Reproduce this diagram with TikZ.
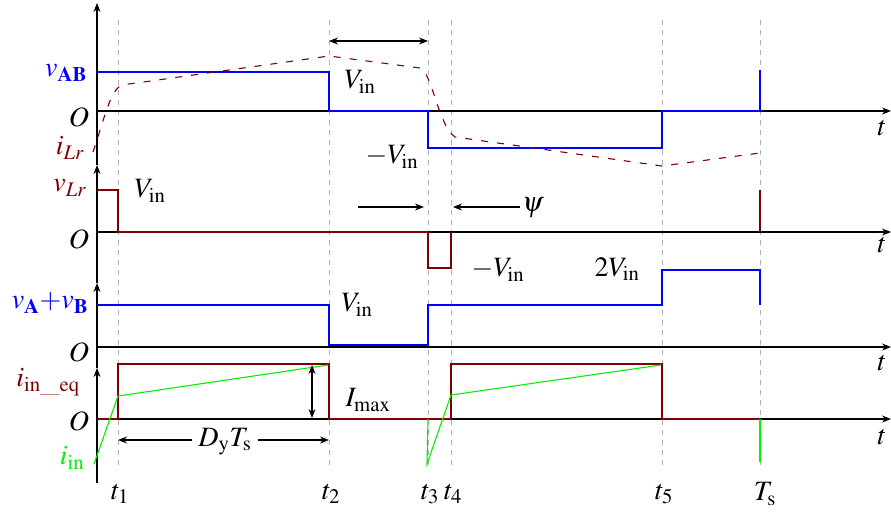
\documentclass[tikz,border=0pt]{standalone}
\usepackage{mathptmx}
\usetikzlibrary{arrows.meta}
\definecolor{dred}{RGB}{128,0,0}
\definecolor{gr}{RGB}{0,240,0}
\begin{document}
\begin{tikzpicture}[x=1pt,y=-1pt,
 ax/.style={line width=1.2pt,-{Stealth[length=9pt,width=7pt]}},
 dim/.style={line width=1.1pt,{Stealth[length=9pt,width=7pt]}-{Stealth[length=9pt,width=7pt]}},
 one/.style={line width=1.1pt,-{Stealth[length=9pt,width=7pt]}},
 grid/.style={gray!60,dashed,line width=1pt,dash pattern=on 5pt off 5pt},
 bl/.style={blue,line width=1.3pt},
 rd/.style={dred,line width=1.3pt},
 gn/.style={gr,line width=1.1pt},
 lb/.style={font=\fontsize{28}{30}\selectfont,inner sep=0pt}]
\useasboundingbox (0,0) rectangle (891,512);
\foreach \x in {118,329,428,451,662,760} \draw[grid] (\x,20) -- (\x,470);
\draw[ax] (97,483) -- (97,368);
\draw[ax] (97,368) -- (97,283);
\draw[ax] (97,283) -- (97,165);
\draw[ax] (97,165) -- (97,3);
\foreach \y in {111,232,347,419} \draw[ax] (97,\y) -- (891,\y);
\foreach \y/\n in {128/a,245/b,363/c,437/d} \node[lb] (t\n) at (882,\y) {$t$};
\foreach \y/\n in {117/a,239/b,352/c,421/d} \node[lb] (O\n) at (79,\y) {$O$};
\draw[bl] (97,72) -- (329,72) -- (329,111) -- (428,111) -- (428,148) -- (662,148) -- (662,111) -- (760,111);
\draw[bl] (760,111) -- (760,70);
\draw[rd,line width=1.1pt,dash pattern=on 7pt off 9pt] (93,152) .. controls (104,120) and (110,90) .. (122,85) -- (329,56) -- (420,68) .. controls (432,72) and (438,125) .. (455,137) -- (662,166) -- (760,153);
\draw[dim] (329,41) -- (428,41);
\node[lb,blue] (vab) at (66,73) {$v_{\mathbf{AB}}$};
\node[lb] (vin1) at (360,82) {$V_{\rm in}$};
\node[lb,dred] (ilr) at (70,148) {$i_{Lr}$};
\node[lb] (mvin1) at (392,157) {$-V_{\rm in}$};
\draw[rd] (97,190) -- (118,190) -- (118,232) -- (428,232) -- (428,268) -- (451,268) -- (451,232);
\draw[rd] (760,232) -- (760,190);
\node[lb,dred] (vlr) at (70,188) {$v_{Lr}$};
\node[lb] (vin2) at (150,191) {$V_{\rm in}$};
\node[lb] (mvin2) at (498,270) {$-V_{\rm in}$};
\coordinate (p1) at (358,207); \coordinate (p2) at (424,207);
\coordinate (p3) at (520,207); \coordinate (p4) at (453,207);
\draw[one] (p1) -- (p2);
\draw[one] (p3) -- (p4);
\node[lb] (psi) at (533,208) {$\psi$};
\draw[bl] (97,305) -- (329,305) -- (329,345) -- (428,345) -- (428,305) -- (662,305) -- (662,270) -- (760,270) -- (760,305);
\node[lb,blue] (vavb) at (50,303) {$v_{\mathbf{A}}{+}v_{\mathbf{B}}$};
\node[lb] (vin3) at (357,305) {$V_{\rm in}$};
\node[lb] (vin4) at (617,269) {$2V_{\rm in}$};
\draw[rd] (97,419) -- (118,419) -- (118,364) -- (329,364) -- (329,419) -- (451,419) -- (451,364) -- (662,364) -- (662,419) -- (760,419);
\draw[gn] (94,464) -- (118,396) -- (328,365);
\draw[gn] (428,419) -- (427,464) -- (451,395) -- (661,365);
\draw[gn] (760,419) -- (760,462);
\draw[dim] (312,365) -- (312,418);
\node[lb] (imax) at (368,400) {$I_{\max}$};
\node[lb,dred] (iineq) at (48,382) {$i_{\rm in\_eq}$};
\node[lb,gr] (iin) at (72,458) {$i_{\rm in}$};
\node[lb,fill=white,inner xsep=6pt] (dyts) at (225,442) {$D_{\rm y}T_{\rm s}$};
\coordinate (d1) at (118,440); \coordinate (d2) at (329,440);
\draw[one] (dyts.west|-d1) -- (d1);
\draw[one] (dyts.east|-d2) -- (d2);
\foreach \x/\l/\n in {118/t_1/a,329/t_2/b,428/t_3/c,451/t_4/d,662/t_5/e}
  \node[lb] (tl\n) at (\x+2,494) {$\l$};
\node[lb] (tlf) at (765,494) {$T_{\rm s}$};
\end{tikzpicture}
\end{document}
